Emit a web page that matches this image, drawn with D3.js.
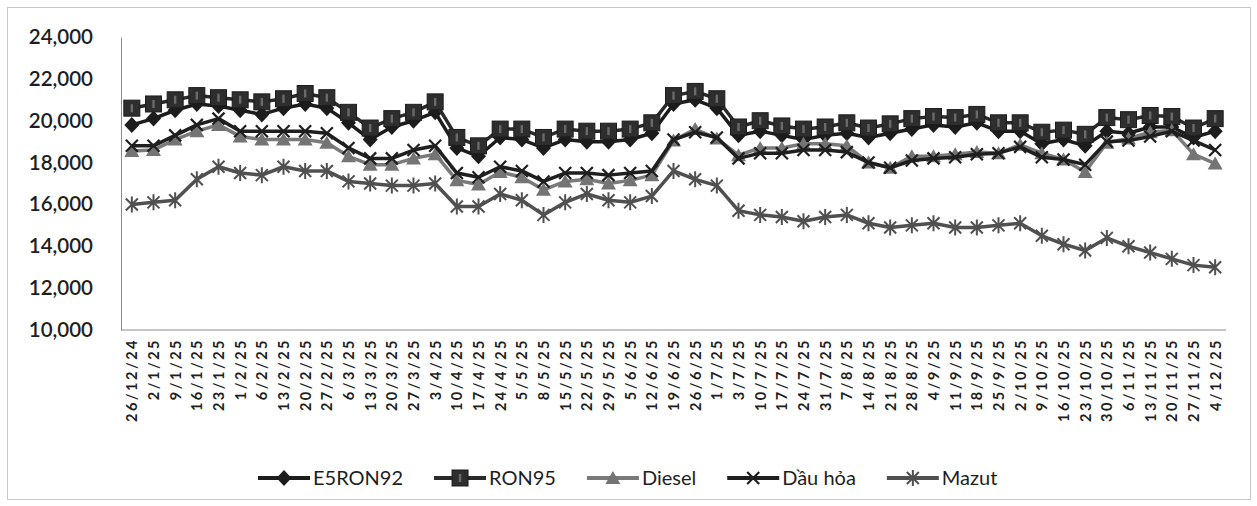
<!DOCTYPE html>
<html>
<head>
<meta charset="utf-8">
<script src="https://cdn.jsdelivr.net/npm/d3@7/dist/d3.min.js"></script>
<style>
  body { margin: 0; background: #fff; }
  svg { display: block; }
</style>
</head>
<body>
<svg id="chart"></svg>
<script>
var dates = ["26/12/24","2/1/25","9/1/25","16/1/25","23/1/25","1/2/25","6/2/25","13/2/25","20/2/25","27/2/25",
  "6/3/25","13/3/25","20/3/25","27/3/25","3/4/25","10/4/25","17/4/25","24/4/25","5/5/25","8/5/25",
  "15/5/25","22/5/25","29/5/25","5/6/25","12/6/25","19/6/25","26/6/25","1/7/25","3/7/25","10/7/25",
  "17/7/25","24/7/25","31/7/25","7/8/25","14/8/25","21/8/25","28/8/25","4/9/25","11/9/25","18/9/25",
  "25/9/25","2/10/25","9/10/25","16/10/25","23/10/25","30/10/25","6/11/25","13/11/25","20/11/25","27/11/25","4/12/25"];

var e5ron92 = [19800,20100,20500,20800,20700,20500,20300,20600,20800,20600,
  19900,19100,19700,20000,20400,18700,18300,19200,19100,18700,
  19100,19000,19000,19100,19400,20800,21000,20600,19300,19500,
  19300,19100,19300,19400,19200,19400,19600,19800,19700,19900,
  19500,19500,18900,19100,18800,19500,19400,19700,19700,19200,19500];

var ron95 = [20600,20800,21000,21200,21100,21000,20900,21050,21300,21100,
  20400,19650,20100,20400,20900,19200,18800,19600,19600,19200,
  19600,19500,19500,19600,19900,21200,21400,21050,19700,20000,
  19750,19600,19700,19900,19650,19850,20100,20200,20150,20300,
  19900,19900,19450,19550,19350,20150,20050,20250,20200,19650,20100];

var diesel = [18550,18600,19100,19500,19800,19250,19100,19100,19100,18950,
  18300,17900,17900,18200,18400,17150,16950,17550,17300,16700,
  17100,17200,17000,17150,17400,19050,19600,19150,18350,18700,
  18700,18900,18900,18800,18000,17750,18300,18300,18400,18500,
  18450,18850,18450,18150,17550,18950,19150,19450,19550,18400,17950];

var dauHoa = [18800,18800,19300,19800,20100,19500,19500,19500,19500,19400,
  18700,18200,18200,18600,18800,17500,17300,17800,17600,17100,
  17500,17500,17400,17500,17600,19100,19450,19200,18200,18450,
  18450,18600,18600,18500,18000,17750,18100,18200,18250,18400,
  18450,18750,18250,18150,17900,19000,19050,19250,19500,19050,18600];

var mazut = [16000,16100,16200,17200,17800,17500,17400,17800,17600,17600,
  17100,17000,16900,16900,17000,15900,15900,16500,16200,15500,
  16100,16500,16200,16100,16400,17600,17200,16900,15700,15500,
  15400,15200,15400,15500,15100,14900,15000,15100,14900,14900,
  15000,15100,14500,14100,13800,14400,14000,13700,13400,13100,13000];

var yTicks = [10000,12000,14000,16000,18000,20000,22000,24000];

var seriesNames = ["E5RON92","RON95","Diesel","Dầu hỏa","Mazut"];

var width = 1257, height = 506;
var svg = d3.select("#chart").attr("width", width).attr("height", height);

// chart frame
svg.append("rect")
  .attr("x", 7.5).attr("y", 7.5)
  .attr("width", 1243).attr("height", 492)
  .style("fill", "none").style("stroke", "#c8c8c8");

var x = d3.scalePoint().domain(dates).range([121, 1226]).padding(0.5);
var y = d3.scaleLinear().domain([10000, 24000]).range([330, 37]);

// axes
var yAxis = svg.append("g")
  .attr("transform", "translate(121,0)")
  .call(d3.axisLeft(y).tickValues(yTicks).tickSize(0).tickPadding(28)
    .tickFormat(d3.format(",")));
yAxis.select(".domain").style("stroke", "#8a8a8a");
yAxis.selectAll("text")
  .style("font-family", "Lato, 'Open Sans', sans-serif")
  .style("font-size", "20.5px")
  .style("font-weight", "600")
  .style("fill", "#1e1e1e");

var xAxis = svg.append("g")
  .attr("transform", "translate(0,330)")
  .call(d3.axisBottom(x).tickSize(0).tickPadding(0));
xAxis.select(".domain").style("stroke", "#8a8a8a").attr("d", "M121,0H1226");
xAxis.selectAll("text")
  .attr("transform", "rotate(-90)")
  .attr("x", -8)
  .attr("y", 0)
  .attr("dy", "0.35em")
  .style("text-anchor", "end")
  .style("font-family", "Lato, 'Open Sans', sans-serif")
  .style("font-size", "14.5px")
  .style("font-weight", "700")
  .style("letter-spacing", "2.5px")
  .style("fill", "#1e1e1e");

// marker shapes
function drawMarker(g, kind, color) {
  if (kind === "diamond") {
    g.append("path").attr("d", "M0,-8L7.5,0L0,8L-7.5,0Z").style("fill", color);
  } else if (kind === "square") {
    g.append("rect").attr("x", -8).attr("y", -8).attr("width", 16).attr("height", 16)
      .style("fill", color).style("stroke", "#1c1c1c").style("stroke-width", 1);
    g.append("rect").attr("x", -1.2).attr("y", -4).attr("width", 2.4).attr("height", 8)
      .style("fill", "#6a6a6a");
  } else if (kind === "triangle") {
    g.append("path").attr("d", "M0,-7L7.5,6L-7.5,6Z").style("fill", color);
  } else if (kind === "x") {
    g.append("path").attr("d", "M-6,-6L6,6M-6,6L6,-6")
      .style("stroke", color).style("stroke-width", 2.2).style("fill", "none");
  } else if (kind === "star") {
    g.append("path").attr("d", "M-6,-6L6,6M-6,6L6,-6M0,-8L0,8")
      .style("stroke", color).style("stroke-width", 2).style("fill", "none");
  }
}

var series = [
  { name: seriesNames[0], values: e5ron92, line: "#1c1c1c", marker: "#1c1c1c", kind: "diamond" },
  { name: seriesNames[1], values: ron95, line: "#2a2a2a", marker: "#2e2e2e", kind: "square" },
  { name: seriesNames[2], values: diesel, line: "#7a7a7a", marker: "#747474", kind: "triangle" },
  { name: seriesNames[3], values: dauHoa, line: "#1f1f1f", marker: "#1f1f1f", kind: "x" },
  { name: seriesNames[4], values: mazut, line: "#505050", marker: "#505050", kind: "star" }
];

var line = d3.line()
  .x(function (d, i) { return x(dates[i]); })
  .y(function (d) { return y(d); });

series.forEach(function (s) {
  var g = svg.append("g");
  g.append("path")
    .attr("d", line(s.values))
    .style("fill", "none")
    .style("stroke", s.line)
    .style("stroke-width", 3.5)
    .style("stroke-linejoin", "round");
  s.values.forEach(function (v, i) {
    var m = g.append("g").attr("transform", "translate(" + x(dates[i]) + "," + y(v) + ")");
    drawMarker(m, s.kind, s.marker);
  });
});

// legend
var legend = svg.append("g").attr("transform", "translate(258,478)");
var lx = 0;
series.forEach(function (s) {
  var item = legend.append("g").attr("transform", "translate(" + lx + ",0)");
  item.append("line").attr("x1", 0).attr("x2", 52).attr("y1", 0).attr("y2", 0)
    .style("stroke", s.line).style("stroke-width", 4);
  var m = item.append("g").attr("transform", "translate(26,0)");
  drawMarker(m, s.kind, s.marker);
  var t = item.append("text")
    .attr("x", 55).attr("y", 0).attr("dy", "0.35em")
    .style("font-family", "Lato, 'Open Sans', sans-serif")
    .style("font-size", "20px")
    .style("fill", "#1e1e1e")
    .text(s.name);
  lx += 55 + t.node().getComputedTextLength() + 31;
});
</script>
</body>
</html>
